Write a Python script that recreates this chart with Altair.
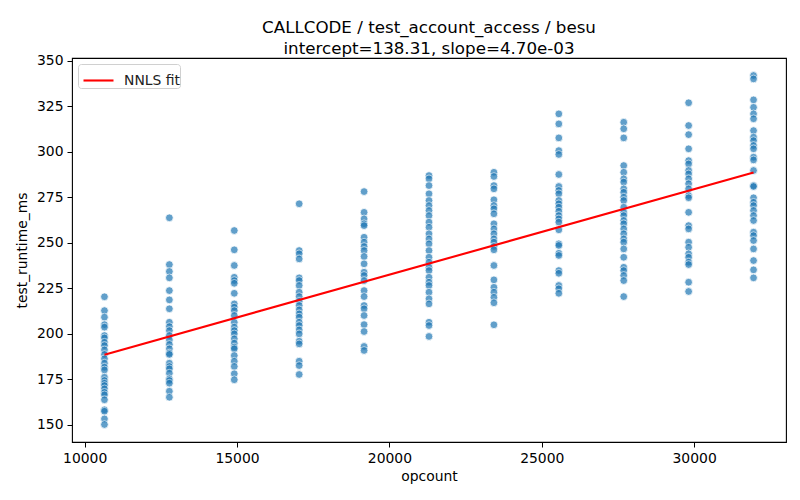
import altair as alt
import pandas as pd

x_levels = [10650, 12780, 14910, 17040, 19170, 21300, 23430, 25560, 27690, 29820, 31950]

col1 = [220.2, 212.6, 209.0, 204.9, 203.5, 198.9, 197.6, 195.2, 193.4, 191.0, 188.5, 186.1, 183.7, 181.5, 180.0, 176.0, 174.2, 172.7, 171.4, 169.6, 167.7, 166.3, 163.6, 158.1, 157.3, 153.1, 150.0]
col2 = [263.6, 237.9, 234.1, 230.6, 223.6, 218.5, 213.6, 206.2, 203.8, 201.6, 198.9, 196.5, 194.0, 191.6, 189.2, 188.5, 183.7, 181.9, 180.6, 178.2, 175.1, 174.2, 172.7, 168.3, 165.0]
col3 = [256.6, 246.0, 237.4, 230.9, 229.1, 227.6, 222.1, 216.3, 214.5, 212.6, 209.9, 206.2, 203.5, 201.6, 199.8, 197.1, 194.7, 192.5, 191.6, 187.9, 184.8, 181.9, 177.9, 174.6]
col4 = [271.3, 245.6, 243.8, 241.0, 230.6, 229.1, 226.4, 222.7, 220.3, 217.7, 215.4, 213.0, 210.8, 209.0, 206.2, 204.4, 202.0, 199.8, 195.8, 194.3, 184.8, 182.4, 177.5]
col5 = [278.0, 266.6, 263.0, 260.3, 259.3, 252.9, 250.2, 247.8, 245.6, 242.3, 238.3, 233.7, 231.9, 229.1, 223.6, 220.3, 215.4, 213.6, 209.9, 204.9, 201.1, 192.9, 190.7]
col6 = [286.8, 285.0, 281.3, 276.8, 273.1, 270.3, 267.6, 264.8, 261.2, 258.4, 254.8, 252.0, 249.3, 245.6, 241.9, 239.2, 236.4, 234.6, 230.9, 228.2, 226.4, 222.7, 219.1, 216.3, 206.2, 204.4, 198.4]
col7 = [288.6, 286.3, 281.3, 279.5, 273.5, 270.3, 268.5, 265.8, 260.3, 257.5, 254.8, 252.0, 250.2, 247.8, 246.0, 237.4, 229.5, 225.4, 222.7, 219.9, 216.9, 204.8]
col8 = [320.7, 315.2, 307.5, 300.5, 298.4, 287.4, 280.8, 278.6, 276.8, 273.1, 271.3, 269.4, 267.2, 264.8, 263.0, 261.2, 257.0, 249.3, 248.4, 244.1, 242.9, 234.6, 233.1, 226.4, 224.6, 222.1]
col9 = [316.1, 312.5, 307.5, 292.3, 288.6, 285.0, 283.2, 279.5, 277.6, 274.9, 273.1, 269.4, 266.6, 264.8, 262.1, 260.3, 257.5, 254.8, 252.0, 250.2, 246.5, 241.9, 236.4, 234.6, 231.9, 229.1, 220.3]
col10 = [326.8, 314.3, 309.3, 301.5, 295.0, 293.2, 289.6, 287.7, 285.0, 282.3, 279.5, 275.8, 274.6, 266.6, 259.3, 257.5, 250.2, 247.4, 243.8, 241.9, 239.2, 237.9, 228.2, 223.1]
col11 = [341.8, 339.9, 328.4, 324.3, 320.7, 318.0, 311.5, 307.9, 306.0, 303.3, 301.5, 296.9, 295.4, 289.6, 281.3, 280.8, 274.6, 272.1, 270.3, 267.6, 264.8, 262.1, 255.7, 253.8, 251.1, 246.5, 240.1, 235.0, 230.6]

fit_x = [10650, 31950]
fit_y = [188.4, 288.5]

columns = [col1, col2, col3, col4, col5, col6, col7, col8, col9, col10, col11]
rows = []
for xv, col in zip(x_levels, columns):
    for v in col:
        rows.append({"opcount": xv, "test_runtime_ms": v})
pts = pd.DataFrame(rows)
fit = pd.DataFrame({"opcount": fit_x, "test_runtime_ms": fit_y, "series": ["NNLS fit"] * 2})

xscale = alt.Scale(domain=[9585, 33015], nice=False, zero=False)
yscale = alt.Scale(domain=[140.4, 351.4], nice=False, zero=False)

xaxis = alt.Axis(title="opcount", values=[10000, 15000, 20000, 25000, 30000], format="d",
                 grid=False, tickSize=5, tickWidth=1, tickColor="black", domain=False,
                 labelPadding=4, titlePadding=5)
yaxis = alt.Axis(title="test_runtime_ms", values=[150, 175, 200, 225, 250, 275, 300, 325, 350],
                 grid=False, tickSize=5, tickWidth=1, tickColor="black", domain=False,
                 labelPadding=4, titlePadding=7)

scatter = alt.Chart(pts).mark_point(
    filled=True, color="#1f77b4", opacity=0.7, stroke="white", strokeWidth=0.8, size=60
).encode(
    x=alt.X("opcount:Q", scale=xscale, axis=xaxis),
    y=alt.Y("test_runtime_ms:Q", scale=yscale, axis=yaxis),
)

line = alt.Chart(fit).mark_line(strokeWidth=2.1).encode(
    x=alt.X("opcount:Q", scale=xscale),
    y=alt.Y("test_runtime_ms:Q", scale=yscale),
    color=alt.Color("series:N", scale=alt.Scale(domain=["NNLS fit"], range=["red"]),
                    legend=alt.Legend(title=None, orient="none", legendX=6, legendY=6,
                                      symbolType="stroke", symbolSize=900, symbolStrokeWidth=2.1,
                                      symbolOffset=4, labelExpr="datum.label + ' '",
                                      labelFontSize=13.9, labelFont="DejaVu Sans", labelColor="#222",
                                      labelOffset=9, padding=0, strokeColor="#d0d0d0",
                                      fillColor="white", cornerRadius=3)),
)

chart = alt.layer(scatter, line).properties(
    width=714, height=384,
    title=alt.Title(["CALLCODE / test_account_access / besu", "intercept=138.31, slope=4.70e-03"],
                    fontSize=16.7, font="DejaVu Sans", fontWeight="normal", color="black",
                    anchor="middle", frame="group", offset=-4, lineHeight=20.5),
    autosize="none",
    padding={"left": 64, "top": 50, "right": 6, "bottom": 50},
).configure_view(
    stroke="black", strokeWidth=1.1
).configure_axis(
    labelFont="DejaVu Sans", titleFont="DejaVu Sans", labelFontSize=13.9, titleFontSize=13.9,
    labelColor="black", titleColor="black", titleFontWeight="normal"
)

chart.save("out.html", embed_options={"renderer": "svg", "actions": False})
